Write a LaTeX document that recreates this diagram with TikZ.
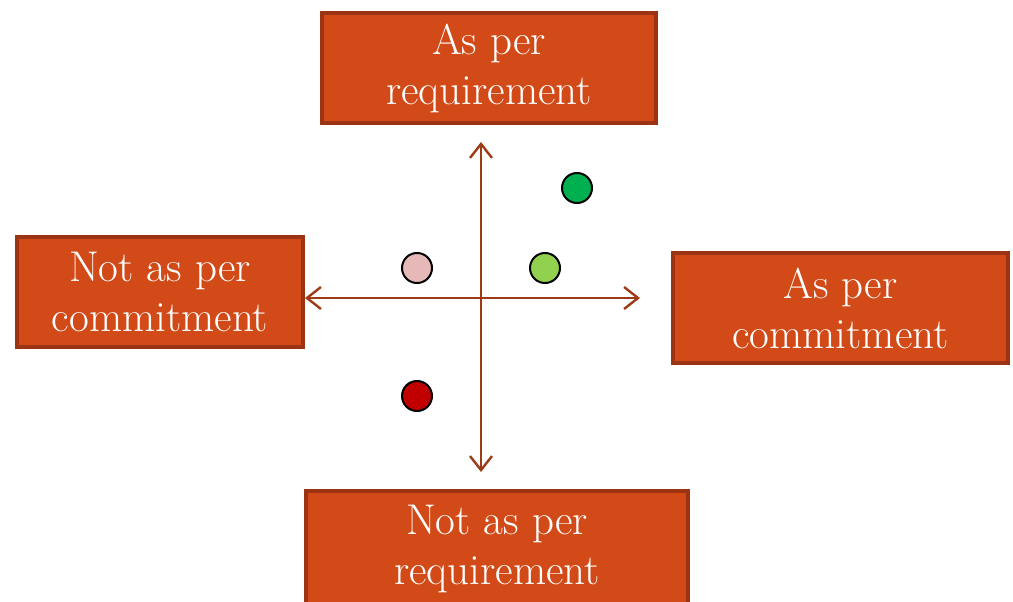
\documentclass[tikz,border=0pt]{standalone}
\usepackage{fontspec}
\usepackage{tikz}
\usetikzlibrary{arrows.meta}

\definecolor{boxfill}{HTML}{D24A18}
\definecolor{boxline}{HTML}{9C3312}
\definecolor{axiscol}{HTML}{9E3A16}
\definecolor{darkgreen}{HTML}{00B050}
\definecolor{lightgreen}{HTML}{92D050}
\definecolor{pinkdot}{HTML}{E6B9B8}
\definecolor{reddot}{HTML}{C00000}

\begin{document}
\begin{tikzpicture}[x=1pt, y=-1pt,
    quadbox/.style={draw=boxline, line width=4pt, fill=boxfill, text=white,
        align=center, minimum height=110pt,
        font=\fontsize{43}{50}\selectfont, inner sep=0pt},
    axis/.style={draw=axiscol, line width=2.4pt,
        {Straight Barb[length=14pt,width=22pt,line width=2.4pt]}-{Straight Barb[length=14pt,width=22pt,line width=2.4pt]}},
    dot/.style={circle, draw=black, line width=2pt, minimum size=30pt, inner sep=0pt}]
    \useasboundingbox (0,0) rectangle (1013,602);
    % four boxes
    \node[quadbox, minimum width=334pt] (up) at (489,68) {As per\\requirement};
    \node[quadbox, minimum width=286pt] (left) at (160,292) {Not as per\\commitment};
    \node[quadbox, minimum width=335pt] (right) at (840.5,308) {As per\\commitment};
    \node[quadbox, minimum width=382pt, minimum height=116pt] (down) at (497,549) {Not as per\\requirement};
    % axes
    \coordinate (ytop) at (481,142);
    \coordinate (ybot) at (481,472);
    \coordinate (xleft) at (left.east);
    \coordinate (xright) at (640,298);
    \draw[axis] (ybot) -- (ytop);
    \draw[axis] (xleft |- xright) -- (xright);
    % dots
    \node[dot, fill=darkgreen] (g1) at (577,188) {};
    \node[dot, fill=lightgreen] (g2) at (545,268) {};
    \node[dot, fill=pinkdot] (p1) at (417,268) {};
    \node[dot, fill=reddot] (r1) at (417,396) {};
\end{tikzpicture}
\end{document}
